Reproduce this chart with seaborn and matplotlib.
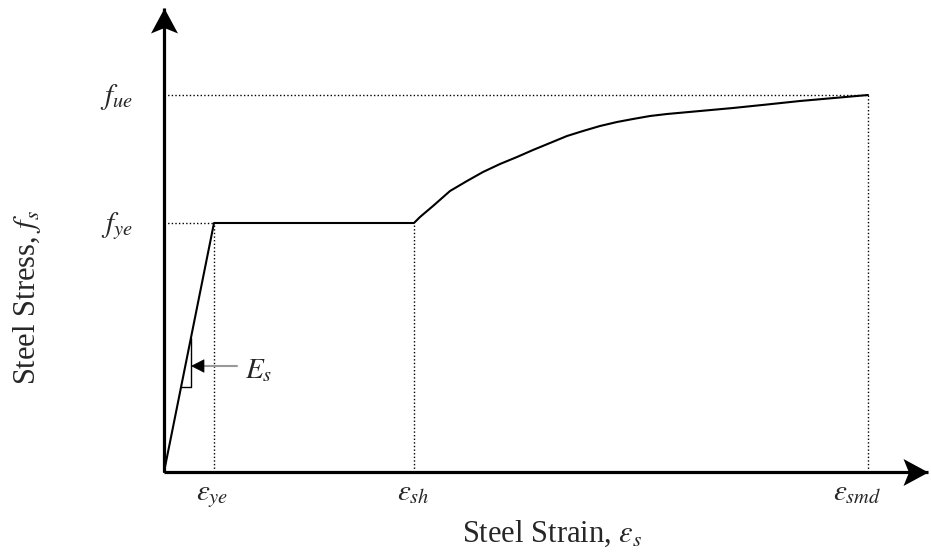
import numpy as np
import pandas as pd
import matplotlib
matplotlib.use("Agg")
import matplotlib.pyplot as plt
import seaborn as sns

# ---- data (schematic units) ----
eps_ye = 0.50
eps_sh = 2.50
eps_smd = 7.04
f_ye = 2.49
f_ue = 3.77

strain_hard_x = [2.56, 2.69, 2.86, 3.03, 3.19, 3.36, 3.53, 3.69, 3.86, 4.03,
                 4.19, 4.36, 4.53, 4.69, 4.86, 5.03, 5.36, 5.69, 6.03, 6.36, 6.70]
strain_hard_y = [2.55, 2.66, 2.81, 2.91, 3.00, 3.08, 3.15, 3.22, 3.29, 3.36,
                 3.41, 3.46, 3.50, 3.53, 3.56, 3.58, 3.61, 3.64, 3.675, 3.71, 3.74]

strain = [0.0, eps_ye, eps_sh] + strain_hard_x + [eps_smd]
stress = [0.0, f_ye, f_ye] + strain_hard_y + [f_ue]

x_tick_labels = [r"$\varepsilon_{ye}$", r"$\varepsilon_{sh}$", r"$\varepsilon_{smd}$"]
y_tick_labels = [r"$f_{ue}$", r"$f_{ye}$"]
x_label = r"Steel Strain, $\varepsilon_s$"
y_label = r"Steel Stress, $f_s$"
modulus_label = r"$E_s$"

# ---- style ----
sns.set_theme(style="white")
plt.rcParams["font.family"] = ["Liberation Serif", "DejaVu Serif"]
plt.rcParams["mathtext.fontset"] = "stix"

fig = plt.figure(figsize=(9.31, 5.54), dpi=100)
ax = fig.add_axes([0, 0, 1, 1])
ax.set_xlim(-1.64, 7.67)
ax.set_ylim(-0.82, 4.72)
ax.set_axis_off()

FS = 21
FS_T = 22
dot = dict(color="black", lw=1.0, ls=(0, (1, 1.6)))

# dotted guide lines
ax.plot([0, eps_smd], [f_ue, f_ue], **dot)
ax.plot([0, eps_ye], [f_ye, f_ye], **dot)
ax.plot([eps_ye, eps_ye], [0, f_ye], **dot)
ax.plot([eps_sh, eps_sh], [0, f_ye], **dot)
ax.plot([eps_smd, eps_smd], [0, f_ue], **dot)

# stress-strain curve
df = pd.DataFrame({"strain": strain, "stress": stress})
sns.lineplot(data=df, x="strain", y="stress", sort=False, color="black",
             lw=1.5, ax=ax, legend=False)
ax.set_xlabel("")
ax.set_ylabel("")

# axes with arrows
x_end = 7.64
y_end = 4.64
ax.plot([0, x_end], [0, 0], color="black", lw=2.3, solid_capstyle="butt")
ax.plot([0, 0], [0, y_end], color="black", lw=2.3, solid_capstyle="butt")
head_x = [(0, 0), (-1, 0.54), (-0.78, 0), (-1, -0.54), (0, 0)]
head_y = [(0, 0), (0.54, -1), (0, -0.78), (-0.54, -1), (0, 0)]
ax.plot([x_end], [0], marker=head_x, ms=36, color="black", mew=0)
ax.plot([0], [y_end], marker=head_y, ms=36, color="black", mew=0)

# modulus triangle
slope = f_ye / eps_ye
tri_x0, tri_x1 = 0.171, 0.27
ax.plot([tri_x0, tri_x1, tri_x1], [slope * tri_x0, slope * tri_x0, slope * tri_x1],
        color="black", lw=1.0)

# arrow pointing to triangle
arr_y = 1.06
ax.plot([0.34, 0.727], [arr_y, arr_y], color="#999999", lw=1.5)
ax.annotate("", xy=(0.27, arr_y), xytext=(0.36, arr_y),
            arrowprops=dict(arrowstyle="-|>,head_length=0.55,head_width=0.28",
                            color="black", lw=0.5, shrinkA=0, shrinkB=0,
                            mutation_scale=16))
ax.text(0.81, 0.94, modulus_label, fontsize=FS, ha="left", va="baseline")

# tick-like labels
ax.text(-0.31, f_ue - 0.087, y_tick_labels[0], fontsize=FS, ha="right", va="baseline")
ax.text(-0.31, f_ye - 0.087, y_tick_labels[1], fontsize=FS, ha="right", va="baseline")
ax.text(eps_ye - 0.02, -0.28, x_tick_labels[0], fontsize=FS, ha="center", va="baseline")
ax.text(eps_sh - 0.01, -0.28, x_tick_labels[1], fontsize=FS, ha="center", va="baseline")
ax.text(eps_smd - 0.11, -0.28, x_tick_labels[2], fontsize=FS, ha="center", va="baseline")

# axis titles
ax.text(3.88, -0.70, x_label, fontsize=FS_T, ha="center", va="baseline")
ax.text(-1.29, 1.75, y_label, fontsize=FS_T, ha="center", va="baseline",
        rotation=90, rotation_mode="anchor")

fig.savefig("out.png", dpi=100, facecolor="white")
